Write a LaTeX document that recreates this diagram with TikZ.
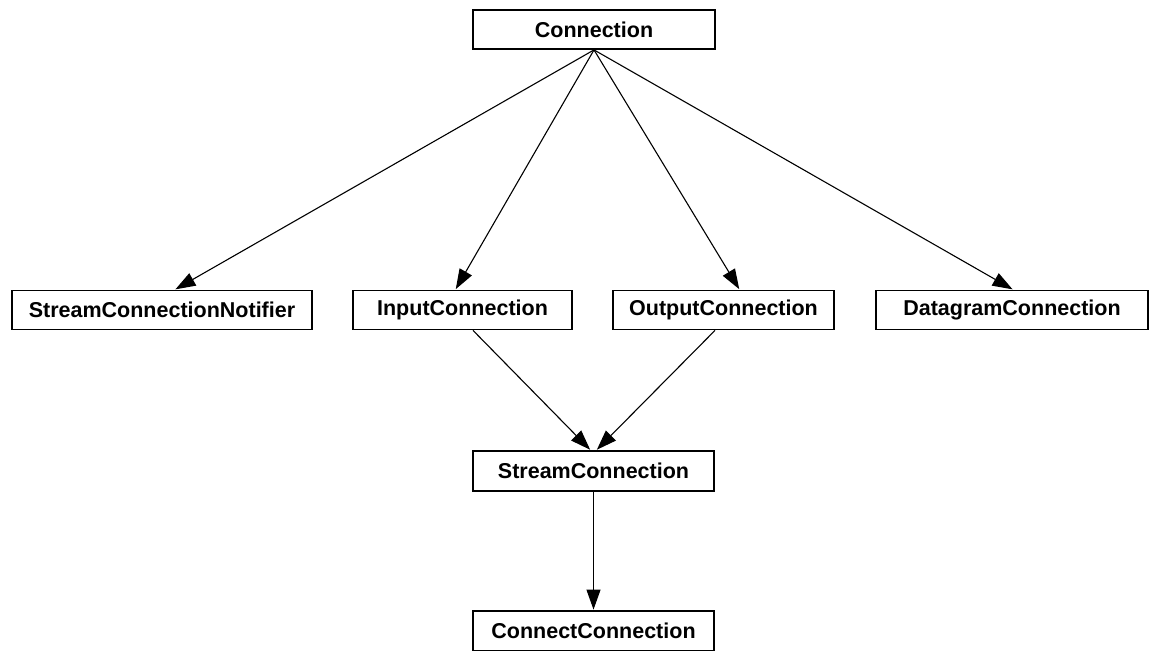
\documentclass[tikz,border=0pt]{standalone}
\usepackage{fontspec}
\setmainfont{Liberation Sans}
\usetikzlibrary{arrows.meta}

\begin{document}
\begin{tikzpicture}[x=1pt,y=1pt,
    cls/.style={draw,line width=1.8pt,inner sep=0pt,minimum height=39pt,
      font=\fontsize{21.5}{24}\selectfont\bfseries}]
  \useasboundingbox[fill=white] (0,0) rectangle (1150,650);
  \node[cls,minimum width=242pt] (conn) at (594,620.5) {Connection};
  \node[cls,minimum width=300pt] (notif) at (162,340) {StreamConnectionNotifier};
  \node[cls,minimum width=219pt] (inp) at (462.5,340) {InputConnection};
  \node[cls,minimum width=221pt] (outp) at (723.5,340) {OutputConnection};
  \node[cls,minimum width=272pt] (dgram) at (1012,340) {DatagramConnection};
  \node[cls,minimum width=241pt,minimum height=40pt] (stream) at (593.5,179) {StreamConnection};
  \node[cls,minimum width=241pt,minimum height=40pt] (cconn) at (593.5,19) {ConnectConnection};
  \path[-{Triangle[length=20pt,width=14pt]},line width=1.1pt,shorten >=0.5pt]
    (conn.south) edge ([xshift=13pt]notif.north)
    (conn.south) edge ([xshift=-7pt]inp.north)
    (conn.south) edge ([xshift=16pt]outp.north)
    (conn.south) edge ([xshift=1pt]dgram.north)
    ([xshift=10.5pt]inp.south) edge ([xshift=-3pt]stream.north)
    ([xshift=-8.5pt]outp.south) edge ([xshift=3pt]stream.north)
    (stream.south) edge (cconn.north);
\end{tikzpicture}
\end{document}
